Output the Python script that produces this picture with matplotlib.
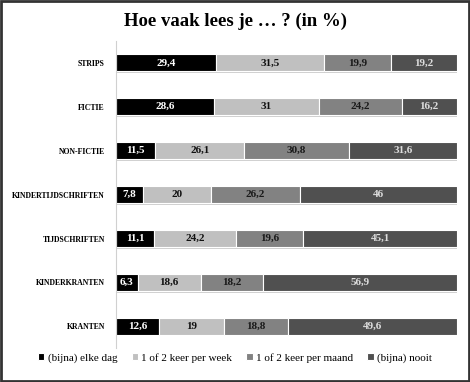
import matplotlib.pyplot as plt
import matplotlib.patheffects as pe
import numpy as np

plt.rcParams['font.family'] = ['Liberation Serif', 'DejaVu Serif']

# categories, top to bottom
categories = ["STRIPS", "FICTIE", "NON-FICTIE", "KINDERTIJDSCHRIFTEN",
              "TIJDSCHRIFTEN", "KINDERKRANTEN", "KRANTEN"]

# percentages per answer
elke_dag = [29.4, 28.6, 11.5, 7.8, 11.1, 6.3, 12.6]
per_week = [31.5, 31, 26.1, 20, 24.2, 18.6, 19]
per_maand = [19.9, 24.2, 30.8, 26.2, 19.6, 18.2, 18.8]
nooit = [19.2, 16.2, 31.6, 46, 45.1, 56.9, 49.6]

labels = ["(bijna) elke dag", "1 of 2 keer per week", "1 of 2 keer per maand", "(bijna) nooit"]
series = [elke_dag, per_week, per_maand, nooit]
colors = ['#000000', '#c0c0c0', '#828282', '#505050']
text_colors = ['white', '#111111', '#1a1a1a', '#dddddd']

fig = plt.figure(figsize=(4.7, 3.82), dpi=100)
ax = fig.add_axes([0.247, 0.088, 0.725, 0.805])

y = np.arange(len(categories))
left = np.zeros(len(categories))
shadow = [pe.SimplePatchShadow(offset=(0.6, -1.2), shadow_rgbFace='#b0b0b0', alpha=0.6), pe.Normal()]
for vals, lab, col, tcol in zip(series, labels, colors, text_colors):
    vals = np.array(vals)
    bars = ax.barh(y, vals, left=left, height=0.38, color=col, edgecolor='white',
                   linewidth=0.8, label=lab)
    for b, v in zip(bars, vals):
        b.set_path_effects(shadow)
        txt = ('%g' % v).replace('.', ',')
        ax.text(b.get_x() + b.get_width() / 2, b.get_y() + b.get_height() / 2, txt,
                ha='center', va='center', color=tcol, fontsize=8, fontweight='bold')
    left += vals

ax.set_xlim(0, 100)
ax.set_ylim(len(categories) - 0.5, -0.5)
ax.set_yticks(y)
ax.set_yticklabels(categories, fontsize=5.6, fontweight='bold')
ax.tick_params(axis='y', length=0, pad=8)
ax.set_xticks([])
for s in ['top', 'right', 'bottom']:
    ax.spines[s].set_visible(False)
ax.spines['left'].set_color('#d0d0d0')

fig.suptitle("Hoe vaak lees je \u2026 ? (in %)", fontsize=13.5, fontweight='bold', y=0.968)

leg = fig.legend(loc='center', bbox_to_anchor=(0.5, 0.063), ncol=4, frameon=False,
                 fontsize=8, handlelength=0.55, handleheight=0.55, handletextpad=0.3,
                 columnspacing=1.3)
for h in leg.legend_handles:
    h.set_path_effects([])

# dark frame round the picture
fig.patches.append(plt.Rectangle((0.002, 0.002), 0.996, 0.996, transform=fig.transFigure,
                                 fill=False, edgecolor='#333333', linewidth=2))

fig.savefig('out.png', dpi=100)
